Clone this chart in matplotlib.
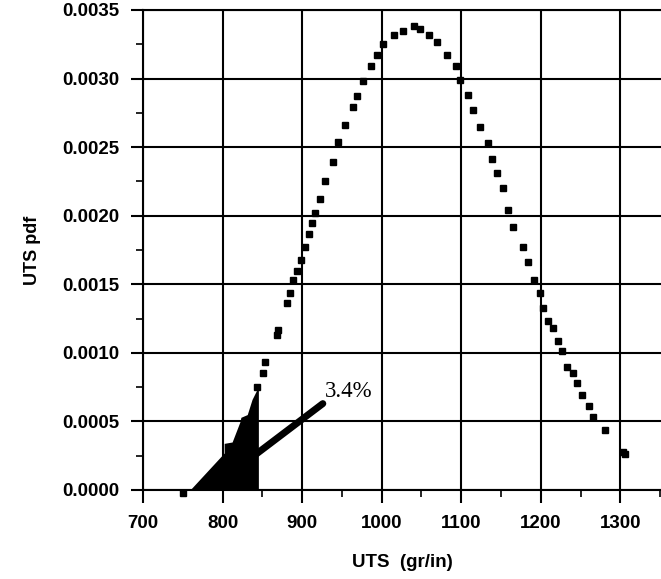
import numpy as np
import matplotlib.pyplot as plt
from matplotlib.ticker import MultipleLocator

# puntos de la curva pdf
uts = [750, 843, 851, 853, 869, 870, 881, 885, 889, 894, 898, 904, 908, 913,
       916, 923, 929, 939, 945, 954, 964, 969, 977, 986, 994, 1002, 1015,
       1027, 1040, 1048, 1059, 1070, 1082, 1093, 1099, 1108, 1115, 1124,
       1133, 1139, 1145, 1152, 1159, 1165, 1177, 1184, 1191, 1199, 1203,
       1209, 1215, 1222, 1227, 1233, 1240, 1246, 1252, 1260, 1266, 1281,
       1303, 1306]
pdf = [-0.00002, 0.00075, 0.00085, 0.00093, 0.00113, 0.00117, 0.00136,
       0.00144, 0.00153, 0.00160, 0.00168, 0.00177, 0.00187, 0.00195,
       0.00202, 0.00212, 0.00225, 0.00239, 0.00254, 0.00266, 0.00279,
       0.00287, 0.00298, 0.00309, 0.00317, 0.00325, 0.00332, 0.00335,
       0.00338, 0.00336, 0.00332, 0.00327, 0.00317, 0.00309, 0.00299,
       0.00288, 0.00277, 0.00265, 0.00253, 0.00241, 0.00231, 0.00220,
       0.00204, 0.00192, 0.00177, 0.00166, 0.00153, 0.00144, 0.00133,
       0.00123, 0.00118, 0.00109, 0.00101, 0.00090, 0.00085, 0.00078,
       0.00069, 0.00061, 0.00053, 0.00044, 0.00028, 0.00026]

# zona sombreada (cola inferior, 3.4%)
tail_x = [759, 802, 802, 812, 822, 823, 831, 837, 843, 845]
tail_y = [0.0, 0.00027, 0.00034, 0.00035, 0.00050, 0.00053, 0.00055,
          0.00066, 0.00073, 0.00074]

plt.rcParams['font.family'] = 'Liberation Sans'
plt.rcParams['font.weight'] = 'bold'

fig = plt.figure(figsize=(6.61, 5.79), dpi=100)
ax = fig.add_axes([143/661, 89/579, 1 - 143/661, 480/579])

ax.fill_between(tail_x, 0, tail_y, color='black', linewidth=0)
ax.plot(uts, pdf, 's', color='black', markersize=4.5, clip_on=False)

# flecha de la anotacion
ax.plot([835, 926], [0.00023, 0.00063], color='black', linewidth=5,
        solid_capstyle='round')
ax.text(928, 0.00068, '3.4%', family='Liberation Serif', fontweight='normal',
        fontsize=16.5, ha='left', va='baseline')

ax.set_xlim(700, 1351)
ax.set_ylim(0, 0.0035)
ax.xaxis.set_major_locator(MultipleLocator(100))
ax.xaxis.set_minor_locator(MultipleLocator(50))
ax.yaxis.set_major_locator(MultipleLocator(0.0005))
ax.yaxis.set_minor_locator(MultipleLocator(0.00025))
ax.yaxis.set_major_formatter(plt.FuncFormatter(lambda v, p: f'{v:.4f}'))

ax.grid(True, which='major', color='black', linewidth=1.5)
ax.set_axisbelow(True)
for s in ['left', 'bottom', 'top']:
    ax.spines[s].set_linewidth(1.5)
ax.spines['right'].set_visible(False)

ax.tick_params(which='major', direction='out', length=9, width=1.5,
               labelsize=13.5, pad=8)
ax.tick_params(axis='x', which='major', pad=9)
ax.tick_params(which='minor', direction='out', length=5, width=1.2)

ax.set_xlabel('UTS  (gr/in)', fontsize=13.5, fontweight='bold', labelpad=16)
ax.set_ylabel('UTS pdf', fontsize=13, fontweight='bold')
ax.yaxis.set_label_coords(-143/661 + 13/661, 0.5)

fig.savefig('out.png', dpi=100)
